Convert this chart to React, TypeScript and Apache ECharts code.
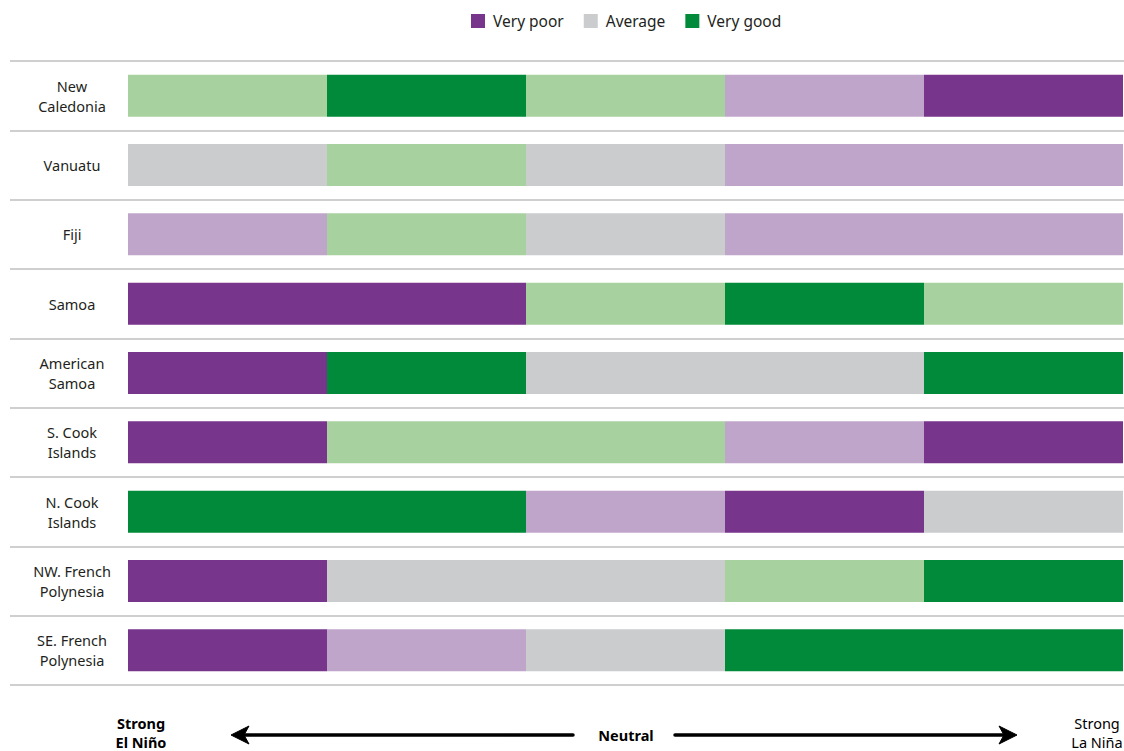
import React, { useEffect, useRef } from "react";
import * as echarts from "echarts";

const regions = [
  "New\nCaledonia",
  "Vanuatu",
  "Fiji",
  "Samoa",
  "American\nSamoa",
  "S. Cook\nIslands",
  "N. Cook\nIslands",
  "NW. French\nPolynesia",
  "SE. French\nPolynesia",
];

const phases = ["Strong El Niño", "Moderate El Niño", "Neutral", "Moderate La Niña", "Strong La Niña"];

// rating per region, per phase (columns left to right)
const ratings: string[][] = [
  ["Good", "Very good", "Good", "Poor", "Very poor"],
  ["Average", "Good", "Average", "Poor", "Poor"],
  ["Poor", "Good", "Average", "Poor", "Poor"],
  ["Very poor", "Very poor", "Good", "Very good", "Good"],
  ["Very poor", "Very good", "Average", "Average", "Very good"],
  ["Very poor", "Good", "Good", "Poor", "Very poor"],
  ["Very good", "Very good", "Poor", "Very poor", "Average"],
  ["Very poor", "Average", "Average", "Good", "Very good"],
  ["Very poor", "Poor", "Average", "Very good", "Very good"],
];

const ratingColors: Record<string, string> = {
  "Very poor": "#77358B",
  Poor: "#C0A5CB",
  Average: "#CBCCCE",
  Good: "#A8D1A0",
  "Very good": "#008A3A",
};

const legendItems = ["Very poor", "Average", "Very good"];

const FONT = "'Noto Sans', sans-serif";

export default function App() {
  const ref = useRef<HTMLDivElement>(null);
  useEffect(() => {
    if (!ref.current) return;
    const chart = echarts.init(ref.current, null, { renderer: "svg" });
    const top = 61;
    const height = 624;
    const barSeries = phases.map((p, pi) => ({
      name: p,
      type: "bar",
      stack: "all",
      xAxisIndex: 1,
      yAxisIndex: 1,
      barWidth: 42,
      data: regions.map((_, ri) => ({
        value: 1,
        itemStyle: { color: ratingColors[ratings[ri][pi]] },
      })),
    }));
    const legendSeries = legendItems.map((n) => ({
      name: n,
      type: "bar",
      stack: "all",
      xAxisIndex: 1,
      yAxisIndex: 1,
      barWidth: 42,
      data: [],
      itemStyle: { color: ratingColors[n] },
    }));
    const arrowY = 735;
    chart.setOption({
      animation: false,
      legend: {
        data: legendItems,
        left: 466,
        top: 8,
        itemWidth: 14,
        itemHeight: 14,
        itemGap: 20,
        icon: "rect",
        textStyle: {
          fontFamily: FONT,
          fontSize: 15.5,
          color: "#231F20",
          padding: [0, 0, 0, 3],
        },
      },
      grid: [
        { left: 10, right: 0, top, height },
        { left: 128, right: 1, top, height },
      ],
      xAxis: [
        { type: "value", gridIndex: 0, show: false, min: 0, max: 1 },
        { type: "value", gridIndex: 1, show: false, min: 0, max: phases.length },
      ],
      yAxis: [
        {
          type: "category",
          gridIndex: 0,
          inverse: true,
          data: regions,
          axisLine: { show: false },
          axisTick: { show: false },
          splitLine: { show: true, lineStyle: { color: "#CFCFCF", width: 2 } },
          axisLabel: {
            inside: true,
            margin: 62,
            align: "center",
            fontFamily: FONT,
            fontSize: 14.5,
            lineHeight: 20,
            color: "#231F20",
          },
        },
        {
          type: "category",
          gridIndex: 1,
          inverse: true,
          data: regions,
          show: false,
        },
      ],
      series: [...barSeries, ...legendSeries],
      graphic: [
        {
          type: "text",
          x: 141,
          y: 713,
          style: {
            text: "Strong\nEl Niño",
            fontFamily: FONT,
            fontSize: 14.5,
            fontWeight: "bold",
            lineHeight: 19,
            align: "center",
            fill: "#000",
          },
        },
        {
          type: "text",
          x: 626,
          y: arrowY,
          style: {
            text: "Neutral",
            fontFamily: FONT,
            fontSize: 14.5,
            fontWeight: "bold",
            align: "center",
            verticalAlign: "middle",
            fill: "#000",
          },
        },
        {
          type: "text",
          x: 1097,
          y: 713,
          style: {
            text: "Strong\nLa Niña",
            fontFamily: FONT,
            fontSize: 14.5,
            lineHeight: 19,
            align: "center",
            fill: "#000",
          },
        },
        {
          type: "line",
          shape: { x1: 242, y1: arrowY, x2: 573, y2: arrowY },
          style: { stroke: "#000", lineWidth: 3.5, lineCap: "round" },
        },
        {
          type: "polygon",
          shape: { points: [[231, arrowY], [249, arrowY - 9], [244, arrowY], [249, arrowY + 9]] },
          style: { fill: "#000", stroke: "#000", lineWidth: 1, lineJoin: "round" },
        },
        {
          type: "line",
          shape: { x1: 675, y1: arrowY, x2: 1006, y2: arrowY },
          style: { stroke: "#000", lineWidth: 3.5, lineCap: "round" },
        },
        {
          type: "polygon",
          shape: { points: [[1017, arrowY], [999, arrowY - 9], [1004, arrowY], [999, arrowY + 9]] },
          style: { fill: "#000", stroke: "#000", lineWidth: 1, lineJoin: "round" },
        },
      ],
    });
    return () => chart.dispose();
  }, []);
  return (
    <div
      ref={ref}
      style={{ position: "absolute", left: 0, top: 0, width: 1124, height: 751, background: "#fff" }}
    />
  );
}
